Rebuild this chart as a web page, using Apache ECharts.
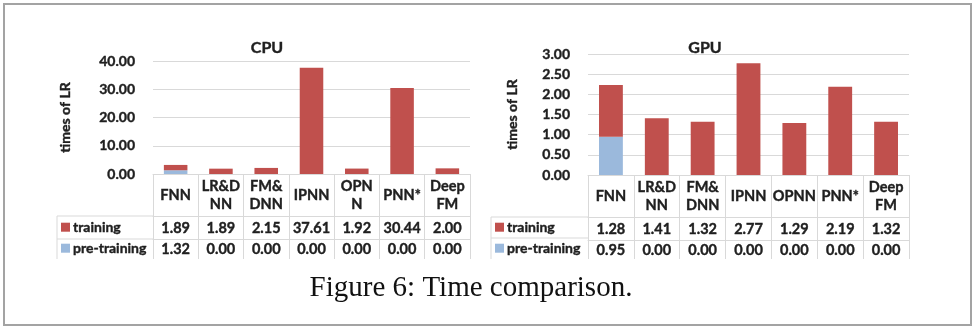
<!DOCTYPE html>
<html>
<head>
<meta charset="utf-8">
<script src="https://cdn.jsdelivr.net/npm/echarts@6/dist/echarts.min.js"></script>
<style>
  html, body { margin: 0; padding: 0; background: #fff; }
  #chart { width: 976px; height: 330px; }
</style>
</head>
<body>
<div id="chart"></div>
<script>
// Categories (table header row) for each panel
const cpuCategories = ['FNN', 'LR&D\nNN', 'FM&\nDNN', 'IPNN', 'OPN\nN', 'PNN*', 'Deep\nFM'];
const gpuCategories = ['FNN', 'LR&D\nNN', 'FM&\nDNN', 'IPNN', 'OPNN', 'PNN*', 'Deep\nFM'];

// Time as a multiple of LR
const cpuTraining    = [1.89, 1.89, 2.15, 37.61, 1.92, 30.44, 2.00];
const cpuPreTraining = [1.32, 0.00, 0.00, 0.00, 0.00, 0.00, 0.00];
const gpuTraining    = [1.28, 1.41, 1.32, 2.77, 1.29, 2.19, 1.32];
const gpuPreTraining = [0.95, 0.00, 0.00, 0.00, 0.00, 0.00, 0.00];

// Value axis ranges
const cpuAxis = { min: 0, max: 40, interval: 10 };
const gpuAxis = { min: 0, max: 3, interval: 0.5 };

const seriesNames = ['training', 'pre-training'];
const panelTitles = ['CPU', 'GPU'];
const yAxisName = 'times of LR';
const caption = 'Figure 6: Time comparison.';

const RED = '#C0504D';
const BLUE = '#9BB9DC';
const GRID_LINE = '#d9d9d9';
const TEXT = '#1f1f1f';
const FONT = 'Lato';
// slight stroke to give the bold sans labels more weight
const HEAVY = { textBorderColor: TEXT, textBorderWidth: 0.4 };

const chart = echarts.init(document.getElementById('chart'), null, { renderer: 'canvas' });

const grids = [
  { left: 153, top: 61, width: 317, height: 113 },
  { left: 588, top: 54, width: 321, height: 121 }
];

function tableAxes(gridIndex, categories, training, preTraining, tickLen) {
  const base = {
    gridIndex,
    type: 'category',
    data: categories,
    position: 'bottom',
    axisTick: { show: false },
    axisLine: { show: true, lineStyle: { color: GRID_LINE, width: 1 } },
    axisLabel: Object.assign({
      interval: 0, fontFamily: FONT, fontWeight: 'bold', fontSize: 14.5,
      color: TEXT, verticalAlign: 'middle'
    }, HEAVY)
  };
  return [
    Object.assign({}, base, {
      axisTick: { show: true, interval: 0, alignWithLabel: false, length: tickLen,
                  lineStyle: { color: GRID_LINE, width: 1 } },
      axisLabel: Object.assign({}, base.axisLabel, { margin: 21, lineHeight: 18 })
    }),
    Object.assign({}, base, {
      offset: 42,
      axisLabel: Object.assign({}, base.axisLabel, {
        margin: 12, formatter: (v, i) => training[i].toFixed(2)
      })
    }),
    Object.assign({}, base, {
      offset: 65,
      axisLabel: Object.assign({}, base.axisLabel, {
        margin: 10, formatter: (v, i) => preTraining[i].toFixed(2)
      })
    })
  ];
}

function valueAxis(gridIndex, range, nameGap) {
  return {
    gridIndex,
    type: 'value',
    min: range.min, max: range.max, interval: range.interval,
    name: yAxisName, nameLocation: 'middle', nameGap, nameRotate: 90,
    nameTextStyle: Object.assign({ fontFamily: FONT, fontWeight: 'bold', fontSize: 14, color: TEXT }, HEAVY),
    axisLine: { show: false },
    axisTick: { show: false },
    splitLine: { show: true, lineStyle: { color: GRID_LINE, width: 1 } },
    axisLabel: Object.assign({
      margin: 18, fontFamily: FONT, fontWeight: 'bold', fontSize: 14, color: TEXT,
      formatter: v => v.toFixed(2)
    }, HEAVY)
  };
}

function barSeries(name, data, color, xAxisIndex, yAxisIndex, stack) {
  return {
    name, type: 'bar', stack, data, xAxisIndex, yAxisIndex,
    barWidth: '52%', itemStyle: { color },
    emphasis: { disabled: true }, animation: false
  };
}

function legendItem(name, left, top) {
  return {
    data: [name], left, top, padding: 0, orient: 'horizontal',
    icon: 'rect', itemWidth: 9, itemHeight: 9, itemGap: 0,
    selectedMode: false,
    textStyle: Object.assign({ fontFamily: FONT, fontWeight: 'bold', fontSize: 14, color: TEXT,
                               padding: [0, 0, 0, -2] }, HEAVY)
  };
}

function line(x1, y1, x2, y2) {
  return { type: 'line', shape: { x1, y1, x2, y2 }, style: { stroke: GRID_LINE, lineWidth: 1 }, silent: true };
}

const titleStyle = Object.assign({ fontFamily: FONT, fontWeight: 'bold', fontSize: 16, color: TEXT }, HEAVY);

const option = {
  backgroundColor: '#fff',
  animation: false,
  title: [
    { text: panelTitles[0], left: 262, top: 35, textAlign: 'center', textStyle: titleStyle },
    { text: panelTitles[1], left: 700, top: 35, textAlign: 'center', textStyle: titleStyle }
  ],
  legend: [
    legendItem(seriesNames[0], 61, 220),
    legendItem(seriesNames[1], 61, 241),
    legendItem(seriesNames[0], 495, 220),
    legendItem(seriesNames[1], 495, 241)
  ],
  grid: grids,
  xAxis: [
    ...tableAxes(0, cpuCategories, cpuTraining, cpuPreTraining, 85),
    ...tableAxes(1, gpuCategories, gpuTraining, gpuPreTraining, 84)
  ],
  yAxis: [
    valueAxis(0, cpuAxis, 81),
    valueAxis(1, gpuAxis, 69)
  ],
  series: [
    barSeries(seriesNames[1], cpuPreTraining, BLUE, 0, 0, 'cpu'),
    barSeries(seriesNames[0], cpuTraining, RED, 0, 0, 'cpu'),
    barSeries(seriesNames[1], gpuPreTraining, BLUE, 3, 1, 'gpu'),
    barSeries(seriesNames[0], gpuTraining, RED, 3, 1, 'gpu')
  ],
  graphic: [
    // legend column borders of each data table
    line(57, 216, 153, 216), line(57, 239, 153, 239), line(57, 216, 57, 259),
    line(491, 217, 588, 217), line(491, 238, 588, 238), line(491, 217, 491, 259),
    // outer frame
    { type: 'rect', shape: { x: 4, y: 4, width: 967, height: 321 },
      style: { fill: null, stroke: '#a3a3a3', lineWidth: 2 }, silent: true },
    // figure caption
    { type: 'text', x: 471, y: 288, silent: true,
      style: { text: caption, fontFamily: 'Liberation Serif', fontSize: 29, fill: '#111',
               textAlign: 'center', textVerticalAlign: 'middle' } }
  ]
};

chart.setOption(option);
</script>
</body>
</html>
